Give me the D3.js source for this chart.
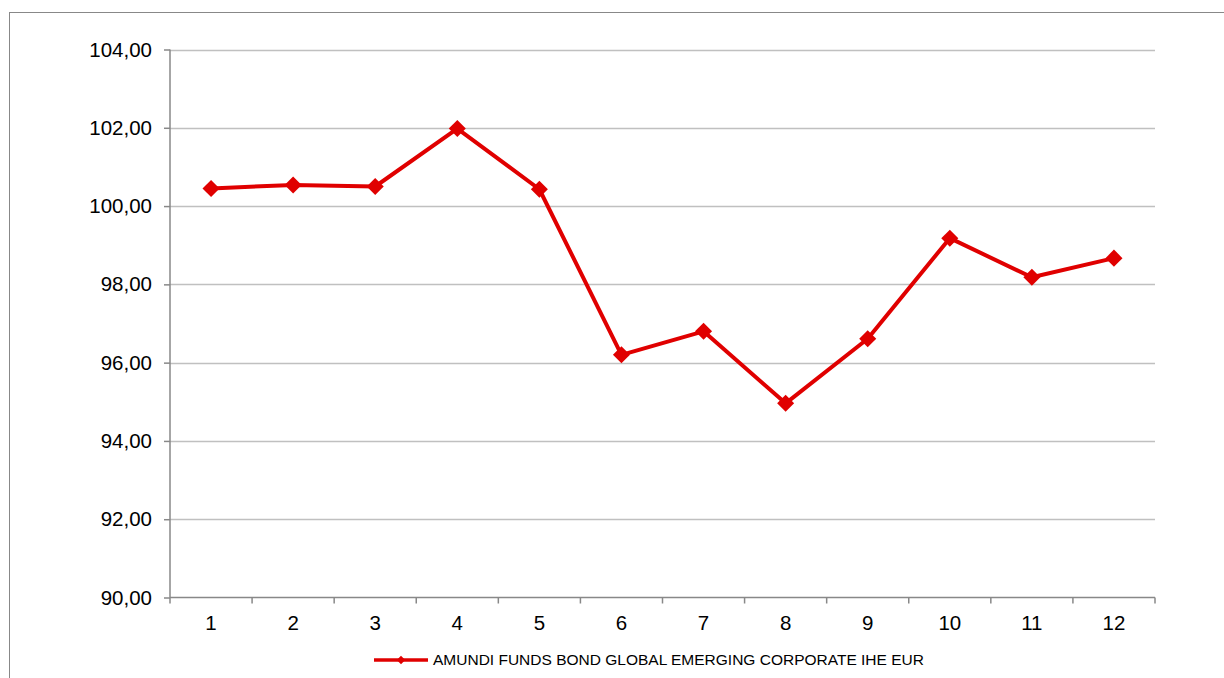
<!DOCTYPE html>
<html><head><meta charset="utf-8">
<script src="https://cdn.jsdelivr.net/npm/d3@7"></script>
<style>html,body{margin:0;padding:0;background:#fff;}svg{display:block;}</style>
</head><body>
<script>
const categories = ["1","2","3","4","5","6","7","8","9","10","11","12"];
const values = [100.45, 100.54, 100.50, 101.98, 100.43, 96.20, 96.80, 94.96, 96.61, 99.18, 98.18, 98.67];
const yTicks = [90, 92, 94, 96, 98, 100, 102, 104];
const seriesName = "AMUNDI FUNDS BOND GLOBAL EMERGING CORPORATE IHE EUR";

const W = 1224, H = 678;
const m = {left: 170, top: 49.5, right: 1155, bottom: 597.5};
const red = "#e00000";
const font = "Liberation Sans, Arial, sans-serif";
const svg = d3.select("body").append("svg").attr("width", W).attr("height", H);

svg.append("rect").attr("x", 9.5).attr("y", 12.5).attr("width", 1300).attr("height", 800)
  .attr("fill", "none").attr("stroke", "#888").attr("stroke-width", 1);

const x = d3.scaleBand().domain(categories).range([m.left, m.right]);
const y = d3.scaleLinear().domain([90, 104]).range([m.bottom, m.top]);

// gridlines
svg.append("g").selectAll("line").data(yTicks.filter(t => t !== 90)).join("line")
  .attr("x1", m.left).attr("x2", m.right)
  .attr("y1", d => Math.round(y(d)) + 0.5).attr("y2", d => Math.round(y(d)) + 0.5)
  .attr("stroke", "#c0c0c0").attr("stroke-width", 1.5);

// y axis
const fmt = d => d.toFixed(2).replace(".", ",");
const ya = svg.append("g").attr("transform", `translate(${m.left},0)`)
  .call(d3.axisLeft(y).tickValues(yTicks).tickFormat(fmt).tickSize(6).tickPadding(12));
ya.select(".domain").attr("stroke", "#888").attr("stroke-width", 1.5).attr("d", `M0,${m.top}V${m.bottom}`);
ya.selectAll(".tick line").attr("stroke", "#888").attr("stroke-width", 1.5);
ya.selectAll("text").attr("font-family", font).attr("font-size", 20.5).attr("fill", "#000");

// x axis
const xa = svg.append("g").attr("transform", `translate(0,${m.bottom})`)
  .call(d3.axisBottom(x).tickSize(0).tickPadding(18));
xa.select(".domain").attr("stroke", "#888").attr("stroke-width", 1.5).attr("d", `M${m.left},0H${m.right}`);
xa.selectAll("text").attr("font-family", font).attr("font-size", 20.5).attr("fill", "#000");
// category boundary ticks
const bounds = categories.map(c => x(c)).concat([m.right]);
svg.append("g").selectAll("line").data(bounds).join("line")
  .attr("x1", d => d).attr("x2", d => d)
  .attr("y1", m.bottom).attr("y2", m.bottom + 6)
  .attr("stroke", "#888").attr("stroke-width", 1.5);

// line
const cx = (d, i) => x(categories[i]) + x.bandwidth() / 2;
svg.append("path").datum(values)
  .attr("d", d3.line().x(cx).y(d => y(d)))
  .attr("fill", "none").attr("stroke", red).attr("stroke-width", 4).attr("stroke-linejoin", "round");
const diamond = d3.symbol().type(d3.symbolSquare).size(145);
svg.append("g").selectAll("path").data(values).join("path")
  .attr("d", diamond())
  .attr("transform", (d, i) => `translate(${cx(d, i)},${y(d)}) rotate(45)`)
  .attr("fill", red);

// legend
const lg = svg.append("g").attr("transform", "translate(374,660)");
lg.append("line").attr("x1", 0).attr("x2", 54).attr("y1", 0).attr("y2", 0).attr("stroke", red).attr("stroke-width", 3.5);
lg.append("path").attr("d", d3.symbol().type(d3.symbolSquare).size(36)()).attr("transform", "translate(27,0) rotate(45)").attr("fill", red);
lg.append("text").attr("x", 59).attr("y", 5).text(seriesName)
  .attr("font-family", font).attr("font-size", 15.5).attr("fill", "#000");
</script>
</body></html>
